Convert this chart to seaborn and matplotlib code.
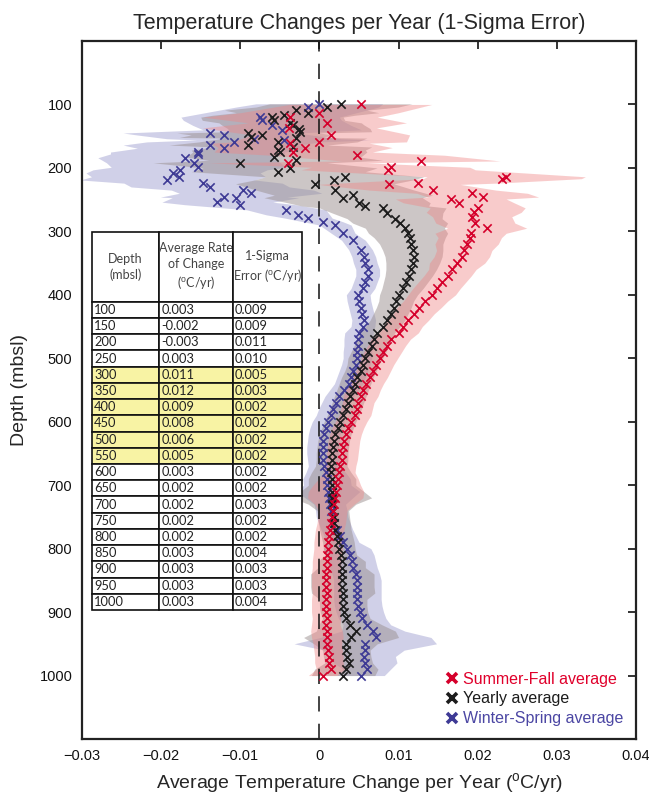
import numpy as np
import pandas as pd
import matplotlib
matplotlib.use('Agg')
import matplotlib.pyplot as plt
import seaborn as sns
from matplotlib.lines import Line2D

sns.set_theme(style='white')
plt.rcParams['font.family'] = ['Liberation Sans', 'DejaVu Sans']
plt.rcParams['mathtext.fontset'] = 'custom'
plt.rcParams['mathtext.rm'] = 'Liberation Sans'
plt.rcParams['mathtext.it'] = 'Liberation Sans:italic'

# ---------------- data ----------------
red_depth = [100, 113, 120, 129, 137, 148, 159, 161, 168, 175, 180, 189, 192, 199, 203,
             214, 217, 224, 226, 235, 240, 246, 249, 255, 263, 270, 277, 287, 295, 303,
             310, 320, 330, 340, 350, 360, 370, 380, 390, 400, 410, 420, 430, 440, 450,
             460, 470, 480, 490, 500, 510, 520, 530, 540, 550, 560, 570, 580, 590, 600,
             610, 620, 630, 640, 650, 660, 670, 680, 690, 700, 710, 720, 730, 740, 750,
             760, 770, 780, 790, 800, 810, 820, 830, 840, 850, 860, 870, 880, 890, 900,
             910, 920, 930, 940, 950, 960, 970, 980, 990, 1000]
red_val = [0.0052, 0.0000, -0.0037, 0.0010, -0.0038, 0.0014, 0.0000, -0.0037, -0.0018, -0.0033,
           0.0048, 0.0128, -0.0040, 0.0090, 0.0087, 0.0236, 0.0231, 0.0124, 0.0088, 0.0143,
           0.0193, 0.0207, 0.0166, 0.0176, 0.0200, 0.0195, 0.0193, 0.0197, 0.0212, 0.0191,
           0.0190, 0.0186, 0.0183, 0.0180, 0.0174, 0.0168, 0.0162, 0.0155, 0.0148, 0.0142,
           0.0134, 0.0126, 0.0119, 0.0112, 0.0105, 0.0100, 0.0090, 0.0085, 0.0080, 0.0076,
           0.0072, 0.0068, 0.0064, 0.0059, 0.0055, 0.0052, 0.0049, 0.0047, 0.0045, 0.0040,
           0.0036, 0.0033, 0.0031, 0.0030, 0.0029, 0.0028, 0.0026, 0.0025, 0.0024, 0.0022,
           0.0021, 0.0020, 0.0019, 0.0017, 0.0016, 0.0015, 0.0013, 0.0012, 0.0011, 0.0011,
           0.0010, 0.0009, 0.0009, 0.0008, 0.0008, 0.0008, 0.0009, 0.0008, 0.0008, 0.0008,
           0.0009, 0.0008, 0.0009, 0.0010, 0.0010, 0.0011, 0.0012, 0.0012, 0.0014, 0.0004]
red_sig = [0.009, 0.010, 0.011, 0.010, 0.011, 0.010, 0.011, 0.010, 0.011, 0.010,
           0.011, 0.010, 0.010, 0.010, 0.011, 0.010, 0.010, 0.010, 0.009, 0.008,
           0.007, 0.007, 0.007, 0.007, 0.006, 0.006, 0.005, 0.005, 0.005, 0.0045,
           0.004, 0.004, 0.0035, 0.0035, 0.0035, 0.003, 0.003, 0.003, 0.003, 0.003,
           0.0028, 0.0028, 0.0026, 0.0026, 0.0025, 0.0025, 0.0025, 0.0024, 0.0024, 0.0023,
           0.0022, 0.0022, 0.0022, 0.0022, 0.0022, 0.0022, 0.002, 0.002, 0.002, 0.002,
           0.002, 0.002, 0.002, 0.002, 0.002, 0.002, 0.002, 0.002, 0.0025, 0.003,
           0.0035, 0.0035, 0.0025, 0.0018, 0.0018, 0.0018, 0.0018, 0.0018, 0.0018, 0.0018,
           0.0018, 0.0018, 0.0018, 0.0018, 0.0018, 0.0018, 0.0018, 0.0018, 0.0018, 0.0018,
           0.0018, 0.0018, 0.002, 0.002, 0.0018, 0.0018, 0.0018, 0.0018, 0.0018, 0.0018]

blk_depth = [99, 104, 109, 113, 117, 120, 125, 129, 132, 138, 143, 145, 148, 152, 153,
             159, 164, 167, 172, 175, 183, 188, 192, 200, 206, 214, 219, 225, 235, 243,
             247, 255, 260, 263, 271, 280, 287, 295, 303,
             310, 320, 330, 340, 350, 360, 370, 380, 390, 400, 410, 420, 430, 440, 450,
             460, 470, 480, 490, 500, 510, 520, 530, 540, 550, 560, 570, 580, 590, 600,
             610, 620, 630, 640, 650, 660, 670, 680, 690, 700, 710, 720, 730, 740, 750,
             760, 770, 780, 790, 800, 810, 820, 830, 840, 850, 860, 870, 880, 890, 900,
             910, 920, 930, 940, 950, 960, 970, 980, 990, 1000]
blk_val = [0.0027, 0.0010, -0.0030, -0.0015, -0.0045, -0.0060, -0.0058, -0.0037, -0.0034, -0.0026,
           -0.0024, -0.0090, -0.0072, -0.0087, -0.0030, -0.0052, -0.0090, -0.0034, -0.0052, -0.0050,
           -0.0058, -0.0030, -0.0100, -0.0037, -0.0052, 0.0032, 0.0018, -0.0006, 0.0020, 0.0043,
           0.0030, 0.0050, 0.0058, 0.0080, 0.0086, 0.0095, 0.0102, 0.0108, 0.0112,
           0.0114, 0.0116, 0.0118, 0.0119, 0.0118, 0.0116, 0.0113, 0.0109, 0.0105, 0.0100,
           0.0097, 0.0094, 0.0090, 0.0086, 0.0080, 0.0073, 0.0069, 0.0066, 0.0062, 0.0058,
           0.0055, 0.0052, 0.0048, 0.0045, 0.0042, 0.0039, 0.0036, 0.0033, 0.0030, 0.0026,
           0.0023, 0.0020, 0.0018, 0.0017, 0.0016, 0.0016, 0.0015, 0.0015, 0.0016, 0.0016,
           0.0016, 0.0016, 0.0016, 0.0017, 0.0018, 0.0019, 0.0020, 0.0022, 0.0024, 0.0025,
           0.0027, 0.0028, 0.0028, 0.0029, 0.0029, 0.0029, 0.0030, 0.0030, 0.0030, 0.0031,
           0.0034, 0.0039, 0.0046, 0.0040, 0.0033, 0.0034, 0.0035, 0.0037, 0.0034, 0.0030]
blk_sig = [0.009, 0.009, 0.009, 0.009, 0.009, 0.009, 0.009, 0.009, 0.009, 0.009,
           0.009, 0.009, 0.009, 0.009, 0.009, 0.010, 0.010, 0.010, 0.011, 0.011,
           0.011, 0.011, 0.011, 0.011, 0.011, 0.010, 0.010, 0.010, 0.010, 0.010,
           0.010, 0.009, 0.008, 0.008, 0.007, 0.006, 0.006, 0.005, 0.005,
           0.0045, 0.004, 0.0038, 0.0036, 0.0034, 0.0032, 0.003, 0.0028, 0.0026, 0.0024,
           0.0022, 0.0022, 0.0022, 0.0022, 0.0022, 0.0022, 0.0022, 0.0022, 0.0022, 0.0022,
           0.002, 0.002, 0.002, 0.002, 0.002, 0.002, 0.002, 0.002, 0.002, 0.002,
           0.002, 0.002, 0.002, 0.002, 0.002, 0.002, 0.002, 0.0025, 0.003, 0.003,
           0.004, 0.005, 0.003, 0.002, 0.002, 0.002, 0.002, 0.002, 0.002, 0.002,
           0.002, 0.003, 0.003, 0.004, 0.004, 0.004, 0.004, 0.003, 0.003, 0.003,
           0.003, 0.004, 0.005, 0.006, 0.004, 0.003, 0.003, 0.003, 0.004, 0.004]

blu_depth = [99, 104, 120, 125, 133, 140, 145, 148, 154, 156, 159, 164, 169, 175, 178,
             184, 192, 199, 203, 208, 214, 219, 224, 230, 235, 240, 246, 247, 254, 258,
             266, 274, 279, 285, 290, 303, 314, 329,
             340, 350, 360, 370, 380, 390, 400, 410, 420, 430, 440, 450,
             460, 470, 480, 490, 500, 510, 520, 530, 540, 550, 560, 570, 580, 590, 600,
             610, 620, 630, 640, 650, 660, 670, 680, 690, 700, 710, 720, 730, 740, 750,
             760, 770, 780, 790, 800, 810, 820, 830, 840, 850, 860, 870, 880, 890, 900,
             910, 920, 930, 940, 950, 960, 970, 980, 990, 1000]
blu_val = [0.0000, -0.0015, -0.0075, -0.0072, -0.0060, -0.0047, -0.0138, -0.0121, -0.0083, -0.0045,
           -0.0108, -0.0138, -0.0120, -0.0154, -0.0154, -0.0170, -0.0159, -0.0153, -0.0176, -0.0185,
           -0.0178, -0.0192, -0.0147, -0.0138, -0.0097, -0.0087, -0.0121, -0.0106, -0.0129, -0.0100,
           -0.0042, -0.0027, -0.0014, 0.0005, 0.0020, 0.0030, 0.0043, 0.0052,
           0.0056, 0.0058, 0.0061, 0.0061, 0.0058, 0.0055, 0.0049, 0.0050, 0.0052, 0.0054,
           0.0056, 0.0055, 0.0050, 0.0049, 0.0049, 0.0048, 0.0048, 0.0046, 0.0043, 0.0040,
           0.0037, 0.0031, 0.0025, 0.0021, 0.0017, 0.0014, 0.0011, 0.0008, 0.0006, 0.0005,
           0.0004, 0.0004, 0.0005, 0.0006, 0.0008, 0.0009, 0.0010, 0.0011, 0.0012, 0.0013,
           0.0015, 0.0016, 0.0019, 0.0022, 0.0026, 0.0030, 0.0035, 0.0039, 0.0041, 0.0043,
           0.0046, 0.0048, 0.0048, 0.0048, 0.0048, 0.0049, 0.0051, 0.0054, 0.0060, 0.0068,
           0.0071, 0.0058, 0.0057, 0.0056, 0.0058, 0.0060, 0.0052]
blu_sig = [0.008, 0.009, 0.010, 0.010, 0.010, 0.010, 0.011, 0.011, 0.011, 0.011,
           0.011, 0.011, 0.011, 0.011, 0.011, 0.011, 0.011, 0.011, 0.011, 0.011,
           0.011, 0.011, 0.010, 0.010, 0.009, 0.009, 0.008, 0.008, 0.007, 0.007,
           0.005, 0.004, 0.003, 0.0025, 0.002, 0.0015, 0.0015, 0.0015,
           0.0015, 0.0015, 0.0015, 0.0015, 0.0015, 0.0015, 0.0015, 0.0015, 0.0015, 0.0015,
           0.0015, 0.0015, 0.0018, 0.0018, 0.0018, 0.0018, 0.0018, 0.0018, 0.0018, 0.0018,
           0.0018, 0.0018, 0.0018, 0.0018, 0.0018, 0.0018, 0.002, 0.002, 0.002, 0.002,
           0.002, 0.002, 0.002, 0.002, 0.0025, 0.003, 0.003, 0.004, 0.003, 0.002,
           0.002, 0.002, 0.002, 0.002, 0.002, 0.002, 0.003, 0.003, 0.003, 0.003,
           0.003, 0.003, 0.003, 0.003, 0.003, 0.003, 0.003, 0.003, 0.003, 0.004,
           0.007, 0.009, 0.005, 0.004, 0.004, 0.003, 0.003]

table_depth = ['100', '150', '200', '250', '300', '350', '400', '450', '500', '550',
               '600', '650', '700', '750', '800', '850', '900', '950', '1000']
table_rate = ['0.003', '-0.002', '-0.003', '0.003', '0.011', '0.012', '0.009', '0.008', '0.006',
              '0.005', '0.003', '0.002', '0.002', '0.002', '0.002', '0.003', '0.003', '0.003', '0.003']
table_sigma = ['0.009', '0.009', '0.011', '0.010', '0.005', '0.003', '0.002', '0.002', '0.002',
               '0.002', '0.002', '0.002', '0.003', '0.002', '0.002', '0.004', '0.003', '0.003', '0.004']
highlight_depths = ['300', '350', '400', '450', '500', '550']

series_labels = ['Summer-Fall average', 'Yearly average', 'Winter-Spring average']

# ---------------- styling ----------------
c_red, c_blk, c_blu = '#d5002b', '#1c1c1c', '#3e3a95'
band_red, band_blk, band_blu = '#f08585', '#9a8f8f', '#9898cc'

fig = plt.figure(figsize=(6.49, 7.96), dpi=100)
ax = fig.add_axes([82 / 649, 1 - 739 / 796, (636 - 82) / 649, (739 - 41) / 796])

dfs = []
for lab, d, v, s in [(series_labels[2], blu_depth, blu_val, blu_sig),
                     (series_labels[1], blk_depth, blk_val, blk_sig),
                     (series_labels[0], red_depth, red_val, red_sig)]:
    dfs.append(pd.DataFrame({'depth': d, 'val': v, 'sig': s, 'series': lab}))
df = pd.concat(dfs, ignore_index=True)

band_cols = {series_labels[0]: band_red, series_labels[1]: band_blk, series_labels[2]: band_blu}
band_alpha = {series_labels[0]: 0.42, series_labels[1]: 0.5, series_labels[2]: 0.45}
mark_cols = {series_labels[0]: c_red, series_labels[1]: c_blk, series_labels[2]: c_blu}

for lab in [series_labels[2], series_labels[1], series_labels[0]]:
    sub = df[df['series'] == lab]
    ax.fill_betweenx(sub['depth'], sub['val'] - sub['sig'], sub['val'] + sub['sig'],
                     color=band_cols[lab], alpha=band_alpha[lab], lw=0, zorder=1)

ax.axvline(0, color='#111111', lw=1.1, linestyle=(0, (10, 8)), zorder=2)

for lab in [series_labels[2], series_labels[1], series_labels[0]]:
    sub = df[df['series'] == lab]
    sns.scatterplot(data=sub, x='val', y='depth', marker='x', s=36, linewidth=1.2,
                    color=mark_cols[lab], ax=ax, zorder=3, legend=False)

ax.set_xlim(-0.03, 0.04)
ax.set_ylim(1100, 0)
ax.set_xticks([-0.03, -0.02, -0.01, 0, 0.01, 0.02, 0.03, 0.04])
ax.set_xticklabels(['\u22120.03', '\u22120.02', '\u22120.01', '0', '0.01', '0.02', '0.03', '0.04'])
ax.set_yticks([100, 200, 300, 400, 500, 600, 700, 800, 900, 1000])
ax.tick_params(direction='in', length=6, width=1.2, top=True, right=True,
               labelsize=10.5, colors='#111111', pad=7)
for sp in ax.spines.values():
    sp.set_linewidth(1.6)
    sp.set_color('#222222')
ax.set_xlabel('Average Temperature Change per Year ($^{\\rm o}$C/yr)', fontsize=14, labelpad=6)
ax.set_ylabel('Depth (mbsl)', fontsize=14, labelpad=8)
ax.set_title('Temperature Changes per Year (1-Sigma Error)', fontsize=15.5, pad=9)

# ---------------- table ----------------
cell_text = [[a, b, c] for a, b, c in zip(table_depth, table_rate, table_sigma)]
col_labels = ['Depth\n(mbsl)', 'Average Rate\nof Change\n($^{\\rm o}$C/yr)',
              '1-Sigma\nError ($^{\\rm o}$C/yr)']
cw = np.array([67, 74, 69], dtype=float)
tbl = ax.table(cellText=cell_text, colLabels=col_labels, colWidths=list(cw / cw.sum()),
               cellLoc='left', colLoc='center',
               bbox=[(92 - 82) / 554, (739 - 610) / 698, (302 - 92) / 554, (610 - 232) / 698])
tbl.auto_set_font_size(False)
tbl.set_fontsize(9.3)
tbl.set_zorder(6)
for (r, c), cell in tbl.get_celld().items():
    cell.set_linewidth(1.2)
    cell.set_edgecolor('#111111')
    cell.PAD = 0.03
    cell.get_text().set_fontfamily(['Lato', 'DejaVu Sans'])
    cell.get_text().set_color('#222222')
    if r == 0:
        cell.set_height(cell.get_height() * 4.3)
        cell.get_text().set_color('#444444')
        cell.get_text().set_fontsize(9.0)
        cell.get_text().set_linespacing(1.35)
    elif table_depth[r - 1] in highlight_depths:
        cell.set_facecolor('#f8f3a4')

# ---------------- legend ----------------
handles = [Line2D([], [], ls='', marker='x', color=c, markersize=7.5, markeredgewidth=2.6)
           for c in [c_red, c_blk, c_blu]]
leg = ax.legend(handles, series_labels, loc='lower right', bbox_to_anchor=(1.0, 0.0),
                frameon=False, handlelength=0.6, handletextpad=0.35, labelspacing=0.3,
                fontsize=11.5, borderaxespad=0.4)
for t, c in zip(leg.get_texts(), ['#e0002b', '#1c1c1c', '#4b46a3']):
    t.set_color(c)

fig.savefig('out.png', dpi=100)
